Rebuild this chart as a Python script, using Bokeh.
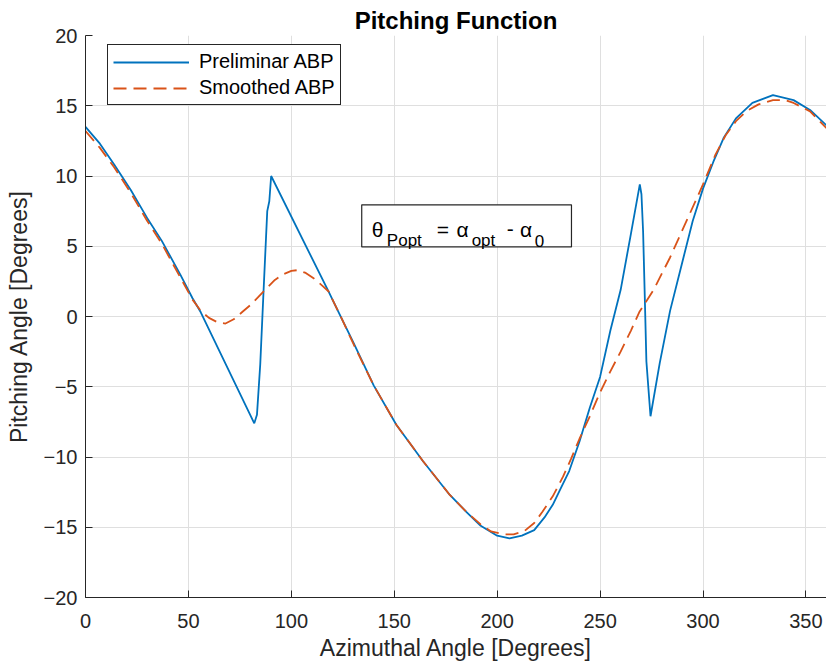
from bokeh.plotting import figure
from bokeh.models import Range1d, FixedTicker, Legend, LegendItem, BoxAnnotation, Label
from bokeh.embed import file_html
from bokeh.resources import INLINE

# ---------------- data ----------------
azimuth_prelim = [0, 7, 14, 22, 30, 37, 46, 52, 56, 82, 83.3, 84.9, 86.5, 87.7, 88.3, 89.3, 90.2,
                  118, 123, 130, 140, 151, 164, 177, 185, 192, 200, 206, 212, 218, 223, 227, 231,
                  235, 240, 245, 250, 255, 260, 265, 269.3, 270.1, 270.9, 271.7, 272.5, 274.5,
                  279, 284, 290, 295, 300, 305, 310, 316, 324, 334, 344, 352, 360]
pitch_prelim = [13.5, 12.3, 10.8, 9.0, 7.0, 5.4, 3.0, 1.3, 0.3, -7.6, -7.0, -3.4, 1.8, 5.6, 7.5, 8.2, 10.0,
                1.8, 0.3, -1.8, -4.9, -7.7, -10.3, -12.7, -13.9, -14.9, -15.6, -15.8, -15.6, -15.2, -14.3, -13.4, -12.2,
                -11.0, -8.9, -6.5, -4.3, -1.0, 1.9, 5.9, 9.4, 8.7, 6.05, 1.5, -3.2, -7.1,
                -3.3, 0.4, 3.9, 6.8, 9.1, 11.0, 12.7, 14.1, 15.2, 15.75, 15.4, 14.7, 13.6]

azimuth_smooth = [0, 7, 14, 22, 30, 37, 46, 52, 56, 60, 64, 68, 72, 76, 80, 84, 88, 92, 96, 100, 103,
                  107, 111, 115, 118, 121, 124, 130, 140, 151, 164, 177, 185, 192, 197, 203, 208, 213,
                  218, 222, 227, 232, 236, 240, 245, 250, 255, 260, 265, 269, 276, 284, 292, 300, 306,
                  311, 316, 321, 327, 334, 340, 344, 352, 360]
pitch_smooth = [13.2, 12.0, 10.6, 8.8, 6.8, 5.2, 2.8, 1.2, 0.4, -0.1, -0.4, -0.5, -0.2, 0.3, 0.8, 1.4, 2.0,
                2.6, 3.0, 3.25, 3.3, 3.1, 2.7, 2.2, 1.8, 0.9, 0.0, -1.9, -4.9, -7.7, -10.3, -12.7, -13.9,
                -14.8, -15.3, -15.5, -15.5, -15.3, -14.7, -13.9, -12.8, -11.4, -10.1, -8.7, -7.1, -5.4,
                -3.9, -2.5, -1.0, 0.3, 1.9, 4.2, 6.8, 9.4, 11.5, 12.9, 13.9, 14.6, 15.1, 15.4, 15.4, 15.2,
                14.6, 13.4]

x_ticks = [0, 50, 100, 150, 200, 250, 300, 350]
y_ticks = [-20, -15, -10, -5, 0, 5, 10, 15, 20]
series_labels = ["Preliminar ABP", "Smoothed ABP"]
title_text = "Pitching Function"
x_label = "Azimuthal Angle [Degrees]"
y_label = "Pitching Angle [Degrees]"

# equation pieces: (text, x, y, is_subscript)
equation = [("θ", 139.1, 6.2, False), ("Popt", 146.4, 5.4, True), ("=", 170.6, 6.2, False),
            ("α", 180.3, 6.2, False), ("opt", 187.6, 5.4, True), ("-", 204.6, 6.2, False),
            ("α", 211.1, 6.2, False), ("0", 218.3, 5.4, True)]

FONT = "Liberation Sans"
AX = "#262626"
BLUE = "#0072BD"
ORANGE = "#D95319"

p = figure(width=826, height=666, output_backend="svg", toolbar_location=None,
           x_range=Range1d(0, 360), y_range=Range1d(-20, 20),
           min_border_left=85, min_border_right=0, min_border_top=35, min_border_bottom=69,
           background_fill_color="white", border_fill_color="white")
p.outline_line_color = None

p.title.text = title_text
p.title.align = "center"
p.title.vertical_align = "top"
p.title.text_font = FONT
p.title.text_font_size = "24px"
p.title.text_font_style = "bold"
p.title.text_color = "black"
p.title.text_line_height = 1.0
p.title.standoff = 0

for ax in (p.xaxis[0], p.yaxis[0]):
    ax.axis_line_color = AX
    ax.axis_line_width = 1
    ax.major_tick_line_color = AX
    ax.major_tick_in = 7
    ax.major_tick_out = 0
    ax.minor_tick_line_color = None
    ax.major_label_text_font = FONT
    ax.major_label_text_font_size = "20px"
    ax.major_label_text_color = AX
    ax.axis_label_text_font = FONT
    ax.axis_label_text_font_size = "23px"
    ax.axis_label_text_font_style = "normal"
    ax.axis_label_text_color = AX

p.xaxis.ticker = FixedTicker(ticks=x_ticks)
p.yaxis.ticker = FixedTicker(ticks=y_ticks)
p.xaxis.axis_label = x_label
p.yaxis.axis_label = y_label
p.xaxis.major_label_standoff = 16
p.yaxis.major_label_standoff = 8
p.xaxis.axis_label_standoff = 4
p.yaxis.axis_label_standoff = 9

p.xgrid.ticker = FixedTicker(ticks=x_ticks)
p.ygrid.ticker = FixedTicker(ticks=y_ticks)
for g in (p.xgrid[0], p.ygrid[0]):
    g.grid_line_color = "#dfdfdf"
    g.grid_line_width = 1

r1 = p.line(azimuth_prelim, pitch_prelim, line_color=BLUE, line_width=1.8)
r2 = p.line(azimuth_smooth, pitch_smooth, line_color=ORANGE, line_width=1.8, line_dash="13 7")

legend = Legend(items=[LegendItem(label=series_labels[0], renderers=[r1]),
                       LegendItem(label=series_labels[1], renderers=[r2])],
                location=(22, 492), margin=0, padding=5, spacing=3,
                label_height=20, glyph_height=20, glyph_width=76, label_standoff=10,
                label_text_font=FONT, label_text_font_size="20px", label_text_color="black",
                label_text_line_height=1.0,
                border_line_color=AX, border_line_width=1, border_line_alpha=1,
                background_fill_color="white", background_fill_alpha=1)
p.add_layout(legend)

box = BoxAnnotation(left=134.2, right=236.1, bottom=4.95, top=7.95,
                    fill_color="white", fill_alpha=1, line_color=AX, line_alpha=1, line_width=1.2)
p.add_layout(box)
for txt, xx, yy, sub in equation:
    p.add_layout(Label(x=xx, y=yy, text=txt, text_font=FONT,
                       text_font_size="17px" if sub else "21px",
                       text_baseline="alphabetic", text_align="left", text_color="black"))

open("out.html", "w").write(file_html(p, INLINE))
